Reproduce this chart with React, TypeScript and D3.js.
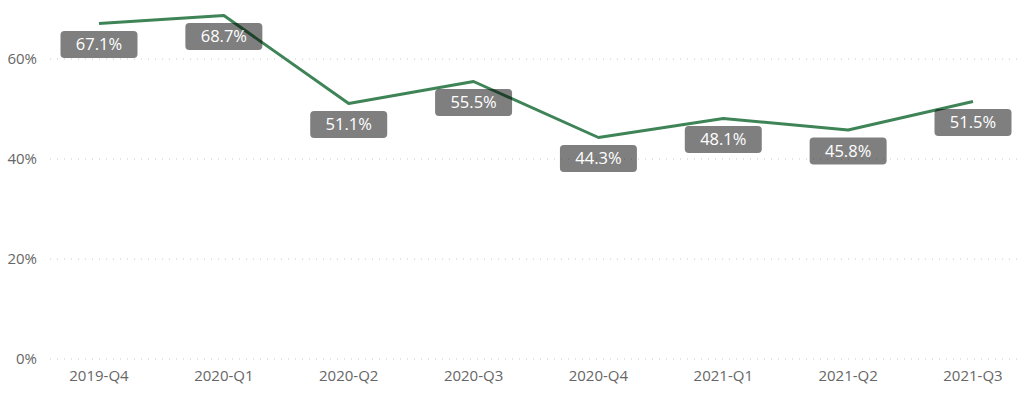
import React from 'react';
import * as d3 from 'd3';

const QUARTERS = ['2019-Q4', '2020-Q1', '2020-Q2', '2020-Q3', '2020-Q4', '2021-Q1', '2021-Q2', '2021-Q3'];
const VALUES = [67.1, 68.7, 51.1, 55.5, 44.3, 48.1, 45.8, 51.5];
const Y_TICKS = [0, 20, 40, 60];

const W = 1024, H = 395;
const FONT = '"Open Sans", "Noto Sans", sans-serif';

const App = () => {
  const x = d3.scalePoint<string>().domain(QUARTERS).range([99, 973]);
  const y = d3.scaleLinear().domain([0, 60]).range([359, 59]);

  const line = d3.line<number>()
    .x((_, i) => x(QUARTERS[i]) as number)
    .y(d => y(d));

  return (
    <svg width={W} height={H} style={{ position: 'absolute', left: 0, top: 0, background: '#fff' }}>
      {Y_TICKS.map(t => (
        <g key={t}>
          <line x1={50} x2={1020} y1={y(t)} y2={y(t)} stroke="#c8c8c8" strokeWidth={1} strokeDasharray="1 6" />
          <text x={37} y={y(t)} dy="0.35em" textAnchor="end" fontFamily={FONT} fontSize={15} fill="#666">{t}%</text>
        </g>
      ))}
      {QUARTERS.map(q => (
        <text key={q} x={x(q)} y={376} dy="0.35em" textAnchor="middle" fontFamily={FONT} fontSize={15} fill="#666">{q}</text>
      ))}
      <path d={line(VALUES) as string} fill="none" stroke="#3e8457" strokeWidth={3} strokeLinejoin="round" />
      {VALUES.map((v, i) => {
        const cx = x(QUARTERS[i]) as number;
        const cy = y(v) + 21;
        return (
          <g key={i}>
            <rect x={cx - 38.5} y={cy - 13.5} width={77} height={27} rx={4} fill="rgba(0,0,0,0.5)" />
            <text x={cx} y={cy} dy="0.36em" textAnchor="middle" fontFamily={FONT} fontSize={16.5} fill="#fff">{v.toFixed(1)}%</text>
          </g>
        );
      })}
    </svg>
  );
};

export default App;
